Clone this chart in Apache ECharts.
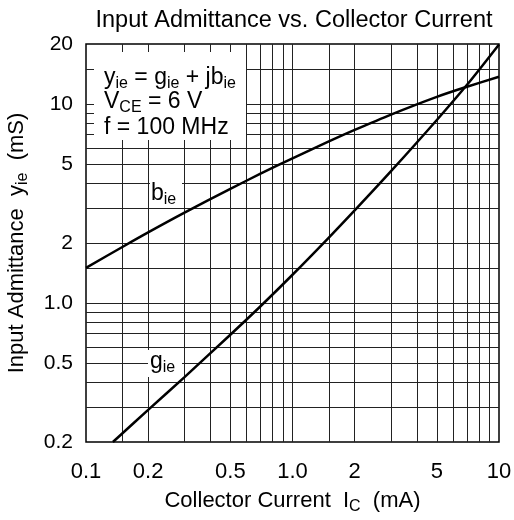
<!DOCTYPE html>
<html><head><meta charset="utf-8">
<script src="https://cdn.jsdelivr.net/npm/echarts@6/dist/echarts.min.js"></script>
<style>html,body{margin:0;padding:0;background:#fff}#c{width:514px;height:520px}</style>
</head><body><div id="c"></div>
<script>
// ---- data ----
const bieCurrent = [0.1, 0.15, 0.2, 0.3, 0.5, 0.7, 1, 1.5, 2, 3, 5, 7, 10];
const bieValues  = [1.5, 1.91, 2.26, 2.84, 3.74, 4.46, 5.33, 6.48, 7.4, 8.84, 10.85, 12.2, 13.7];
const gieCurrent = [0.135, 0.2, 0.3, 0.5, 0.7, 1, 1.5, 2, 3, 5, 7, 10];
const gieValues  = [0.2, 0.29, 0.424, 0.692, 0.962, 1.385, 2.13, 2.915, 4.59, 8.3, 12.47, 19.9];
const xGridValues = [0.15,0.2,0.3,0.4,0.5,0.6,0.7,0.8,0.9,1,1.5,2,3,4,5,6,7,8,9];
const yGridValues = [0.3,0.4,0.5,0.6,0.7,0.8,0.9,1,1.5,2,3,4,5,6,7,8,9,10,15];
const xTickValues = [0.1, 0.2, 0.5, 1, 2, 5, 10];
const xTickLabels = ['0.1','0.2','0.5','1.0','2','5','10'];
const yTickValues = [0.2, 0.5, 1, 2, 5, 10, 20];
const yTickLabels = ['0.2','0.5','1.0','2','5','10','20'];

const FONT = "'Liberation Sans', Arial, Helvetica, sans-serif";
const chart = echarts.init(document.getElementById('c'));
const zip = (xs, ys) => xs.map((x, i) => [x, ys[i]]);
const subStyle = (fs, pad) => ({ fontFamily: FONT, fontSize: fs, color: '#000', fill: '#000', padding: [pad, 0, 0, 0] });

chart.setOption({
  animation: false,
  backgroundColor: '#fff',
  textStyle: { fontFamily: FONT, color: '#000' },
  title: {
    text: 'Input Admittance vs. Collector Current',
    left: 289, top: 4, textAlign: 'center',
    textStyle: { fontFamily: FONT, fontSize: 23.5, fontWeight: 'normal', color: '#000' }
  },
  grid: { left: 86, right: 15, top: 44, bottom: 78, outerBoundsMode: 'none', containLabel: false,
    show: true, borderColor: '#000', borderWidth: 1.5, backgroundColor: 'transparent' },
  xAxis: {
    type: 'log', logBase: 10, min: 0.1, max: 10,
    axisLine: { show: false }, axisTick: { show: false }, axisLabel: { show: false }, splitLine: { show: false },
    name: 'Collector Current  I{sub|C}  (mA)', nameLocation: 'middle', nameGap: 45,
    nameTextStyle: { fontFamily: FONT, fontSize: 22, color: '#000', rich: { sub: subStyle(16, 12) } }
  },
  yAxis: {
    type: 'log', logBase: 10, min: 0.2, max: 20,
    axisLine: { show: false }, axisTick: { show: false }, axisLabel: { show: false }, splitLine: { show: false },
    name: 'Input Admittance  y{sub|ie}  (mS)', nameLocation: 'middle', nameGap: 55,
    nameTextStyle: { fontFamily: FONT, fontSize: 22, color: '#000', rich: { sub: subStyle(16, 12) } }
  },
  series: [
    {
      name: 'grid', type: 'line', data: [], z: 1, silent: true,
      markLine: {
        silent: true, symbol: 'none', animation: false,
        lineStyle: { color: '#222', width: 1, type: 'solid' },
        label: { show: false },
        data: xGridValues.map(v => ({ xAxis: v })).concat(yGridValues.map(v => ({ yAxis: v })))
      }
    },
    {
      name: 'ticks', type: 'line', data: [], z: 1, silent: true, clip: false,
      markLine: {
        silent: true, symbol: 'none', animation: false,
        lineStyle: { color: 'rgba(0,0,0,0)', width: 0 },
        label: { show: true, position: 'start', fontFamily: FONT, fontSize: 21, color: '#000' },
        data: xTickValues.map((v, i) => ({ xAxis: v, label: { formatter: xTickLabels[i], distance: 19, fontSize: 22 } }))
          .concat(yTickValues.map((v, i) => ({ yAxis: v, label: { formatter: yTickLabels[i], distance: 13 } })))
      }
    },
    {
      name: 'bie', type: 'line', data: zip(bieCurrent, bieValues), smooth: 0.3, showSymbol: false, z: 5,
      lineStyle: { color: '#000', width: 2.5 }, itemStyle: { color: '#000' }
    },
    {
      name: 'gie', type: 'line', data: zip(gieCurrent, gieValues), smooth: 0.3, showSymbol: false, z: 5,
      lineStyle: { color: '#000', width: 2.5 }, itemStyle: { color: '#000' }
    }
  ],
  graphic: [
    { type: 'rect', shape: { x: 94, y: 52, width: 152, height: 88 }, style: { fill: '#fff' }, z: 10 },
    { type: 'text', x: 104, y: 78, z: 11, style: { text: 'y{sub|ie} = g{sub|ie} + jb{sub|ie}', fontFamily: FONT, fontSize: 23, fill: '#000', verticalAlign: 'middle',
        rich: { sub: subStyle(16, 12) } } },
    { type: 'text', x: 104, y: 102, z: 11, style: { text: 'V{sub|CE} = 6 V', fontFamily: FONT, fontSize: 23, fill: '#000', verticalAlign: 'middle',
        rich: { sub: subStyle(16, 12) } } },
    { type: 'text', x: 104, y: 128, z: 11, style: { text: 'f = 100 MHz', fontFamily: FONT, fontSize: 23, fill: '#000', verticalAlign: 'middle' } },
    { type: 'rect', shape: { x: 150, y: 180, width: 32, height: 27 }, style: { fill: '#fff' }, z: 10 },
    { type: 'text', x: 151, y: 194, z: 11, style: { text: 'b{sub|ie}', fontFamily: FONT, fontSize: 23, fill: '#000', verticalAlign: 'middle',
        rich: { sub: subStyle(16, 12) } } },
    { type: 'rect', shape: { x: 148, y: 350, width: 34, height: 27 }, style: { fill: '#fff' }, z: 10 },
    { type: 'text', x: 150, y: 362, z: 11, style: { text: 'g{sub|ie}', fontFamily: FONT, fontSize: 23, fill: '#000', verticalAlign: 'middle',
        rich: { sub: subStyle(16, 12) } } }
  ]
});
</script></body></html>
